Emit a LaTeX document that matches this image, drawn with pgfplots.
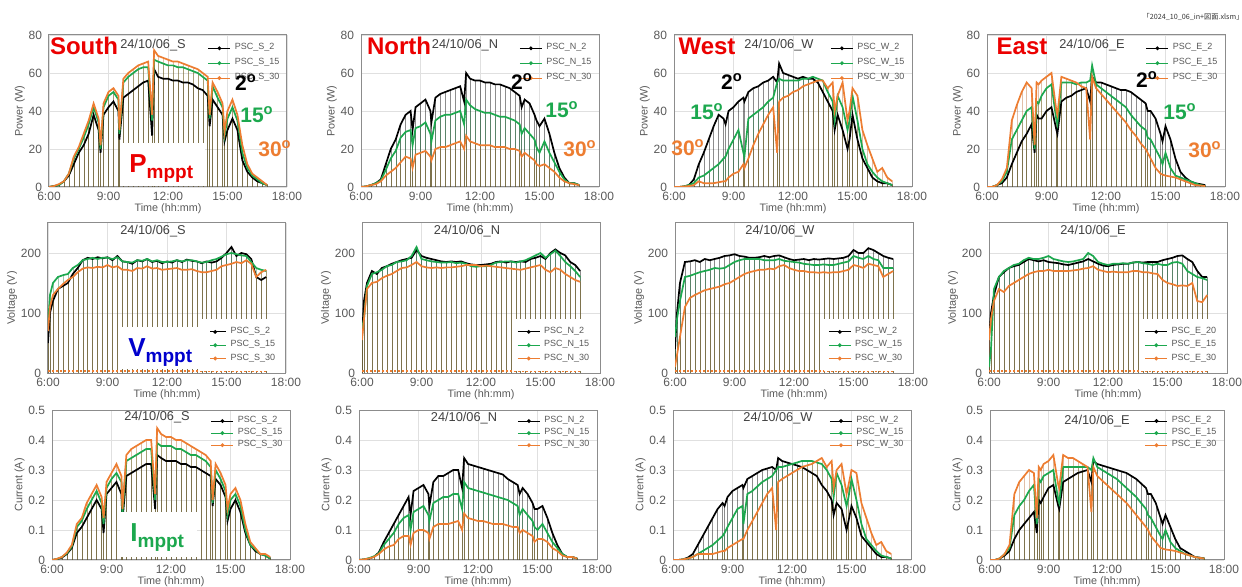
\documentclass[border=0pt]{standalone}
\usepackage{pgfplots}
\usepackage{pgfplotstable}
\pgfplotsset{compat=1.18}
\usepackage{fontspec}
\setmainfont{Liberation Sans}
\newfontfamily\cjk{Noto Sans CJK JP}
\definecolor{cgreen}{RGB}{28,168,78}
\definecolor{corange}{RGB}{237,125,49}
\definecolor{cred}{RGB}{235,0,0}
\definecolor{cblue}{RGB}{0,0,205}
\definecolor{cgray}{RGB}{89,89,89}

\pgfplotstableread{
t a b c
6.0 0 0 0
6.25 0.5 0.5 0.5
6.5 1 1 1.5
6.75 3 3 3
7.0 6 7 7
7.25 12 15 16
7.5 18 20 21
7.75 22 26 28
8.0 28 33 35
8.25 38 42 44
8.5 30 34 36
8.6 18 20 22
8.75 38 42 44
9.0 42 48 50
9.25 45 50 52
9.5 40 46 48
9.55 25 28 30
9.75 47 55 57
10.0 49 58 60
10.25 51 60 62
10.5 53 62 64
10.75 55 63 65
11.0 56 63 66
11.2 27 35 38
11.3 62 67 72
11.5 58 66 69
11.75 57 65 68
12.0 57 64 67
12.25 56 64 66
12.5 56 63 66
12.75 55 63 65
13.0 55 62 64
13.25 54 61 63
13.5 52 60 62
13.75 51 58 60
14.0 48 56 58
14.1 32 36 38
14.25 46 53 55
14.5 42 47 50
14.75 38 42 44
14.85 24 27 29
15.0 30 36 40
15.25 36 42 46
15.5 30 35 38
15.75 14 18 22
16.0 8 10 12
16.25 5 6 7
16.5 3 4 5
16.75 2 2 3
17.0 1 1 1
}\SP

\pgfplotstableread{
t a b c
6.0 50 80 70
6.1 100 130 110
6.25 120 150 130
6.5 140 160 140
6.75 145 163 148
7.0 150 165 155
7.25 165 175 160
7.5 175 180 168
7.75 188 188 174
8.0 192 190 176
8.25 190 192 175
8.5 193 190 177
8.75 191 192 176
9.0 193 192 180
9.25 188 190 176
9.5 195 193 178
9.75 186 186 172
10.0 185 185 172
10.25 182 184 170
10.5 188 188 175
10.75 186 187 174
11.0 190 190 178
11.25 185 186 174
11.5 187 188 175
11.75 183 185 172
12.0 186 185 173
12.25 184 186 174
12.5 188 188 175
12.75 185 186 172
13.0 189 188 172
13.25 187 188 173
13.5 186 186 170
13.75 183 184 168
14.0 186 185 168
14.25 184 188 170
14.5 186 190 172
14.75 192 194 178
15.0 200 198 180
15.25 210 200 182
15.5 195 198 185
15.75 200 196 183
16.0 198 195 188
16.25 190 185 182
16.5 160 175 160
16.75 155 172 168
17.0 160 170 172
}\SV

\pgfplotstableread{
t a b c
6.0 0 0 0
6.25 0.003 0.003 0.004
6.5 0.008 0.01 0.01
6.75 0.02 0.022 0.025
7.0 0.04 0.045 0.05
7.25 0.09 0.11 0.12
7.5 0.11 0.13 0.14
7.75 0.14 0.17 0.19
8.0 0.17 0.20 0.22
8.25 0.20 0.23 0.25
8.5 0.17 0.19 0.21
8.6 0.09 0.12 0.14
8.75 0.22 0.24 0.26
9.0 0.24 0.27 0.29
9.25 0.26 0.29 0.32
9.5 0.22 0.26 0.28
9.55 0.13 0.15 0.17
9.75 0.28 0.33 0.35
10.0 0.29 0.34 0.37
10.25 0.30 0.35 0.38
10.5 0.31 0.36 0.39
10.75 0.32 0.37 0.40
11.0 0.32 0.37 0.40
11.2 0.17 0.20 0.22
11.3 0.35 0.39 0.44
11.5 0.34 0.38 0.42
11.75 0.33 0.38 0.41
12.0 0.33 0.38 0.41
12.25 0.33 0.37 0.40
12.5 0.32 0.37 0.40
12.75 0.32 0.36 0.39
13.0 0.31 0.35 0.38
13.25 0.31 0.35 0.37
13.5 0.30 0.34 0.36
13.75 0.29 0.33 0.35
14.0 0.28 0.31 0.33
14.1 0.18 0.19 0.20
14.25 0.27 0.30 0.32
14.5 0.25 0.27 0.29
14.75 0.21 0.23 0.25
14.85 0.13 0.15 0.17
15.0 0.17 0.20 0.22
15.25 0.20 0.22 0.24
15.5 0.16 0.18 0.20
15.75 0.09 0.10 0.12
16.0 0.05 0.05 0.06
16.25 0.03 0.035 0.04
16.5 0.02 0.02 0.02
16.75 0.015 0.015 0.02
17.0 0.005 0.005 0.01
}\SI

\pgfplotstableread{
t a b c
6.0 0 0 0
6.25 0.3 0.3 0.3
6.5 1 1 1
6.75 2 2 1.5
7.0 4 3.5 3
7.25 12 9 6
7.5 20 15 8
7.75 25 19 10
8.0 33 26 13
8.25 38 29 16
8.5 40 30 15
8.6 30 22 10
8.75 42 31 17
9.0 44 32 18
9.25 46 34 19
9.5 40 28 16
9.55 34 24 14
9.75 47 35 20
10.0 49 37 21
10.25 50 38 21
10.5 51 38 22
10.75 52 39 23
11.0 53 40 24
11.2 45 33 20
11.3 60 46 27
11.5 57 43 24
11.75 56 41 23
12.0 56 40 22
12.25 55 39 22
12.5 55 39 22
12.75 54 38 21
13.0 54 37 21
13.25 53 37 21
13.5 52 36 20
13.75 50 35 20
14.0 48 33 19
14.1 42 28 16
14.25 46 31 18
14.5 44 28 16
14.75 38 25 14
14.85 35 21 12
15.0 32 18 11
15.25 36 24 12
15.5 28 18 10
15.75 18 13 8
16.0 10 8 5
16.25 5 4 3
16.5 2 2 2
16.75 2 2 1.5
17.0 1 1 1
}\NP

\pgfplotstableread{
t a b c
6.0 60 75 55
6.1 120 90 90
6.25 150 145 140
6.5 170 165 150
6.75 165 168 152
7.0 175 172 158
7.25 178 178 162
7.5 182 180 165
7.75 185 185 170
8.0 188 186 175
8.25 190 188 176
8.5 192 195 180
8.75 205 210 185
9.0 195 190 178
9.25 192 188 176
9.5 190 186 175
9.75 188 185 176
10.0 186 184 175
10.25 185 184 176
10.5 186 185 176
10.75 185 183 177
11.0 186 184 178
11.25 183 182 180
11.5 181 178 180
11.75 180 177 180
12.0 180 178 178
12.25 181 178 179
12.5 182 180 178
12.75 185 184 177
13.0 186 185 176
13.25 184 186 175
13.5 186 186 174
13.75 185 184 173
14.0 186 186 172
14.25 185 188 174
14.5 190 192 176
14.75 192 196 178
15.0 195 200 180
15.25 190 192 172
15.5 200 198 168
15.75 206 204 175
16.0 200 195 172
16.25 196 185 165
16.5 185 178 160
16.75 180 170 155
17.0 170 160 152
}\NV

\pgfplotstableread{
t a b c
6.0 0 0 0
6.25 0.002 0.002 0.002
6.5 0.005 0.006 0.005
6.75 0.01 0.012 0.01
7.0 0.025 0.022 0.02
7.25 0.06 0.05 0.035
7.5 0.09 0.07 0.045
7.75 0.12 0.09 0.05
8.0 0.15 0.12 0.07
8.25 0.18 0.14 0.08
8.5 0.21 0.15 0.08
8.6 0.15 0.10 0.05
8.75 0.23 0.16 0.09
9.0 0.24 0.17 0.10
9.25 0.25 0.18 0.10
9.5 0.22 0.15 0.09
9.55 0.18 0.13 0.07
9.75 0.26 0.19 0.11
10.0 0.28 0.20 0.12
10.25 0.28 0.21 0.12
10.5 0.29 0.21 0.12
10.75 0.30 0.22 0.125
11.0 0.30 0.22 0.13
11.2 0.24 0.17 0.10
11.3 0.34 0.26 0.155
11.5 0.32 0.24 0.14
11.75 0.315 0.235 0.135
12.0 0.31 0.23 0.13
12.25 0.305 0.225 0.13
12.5 0.30 0.22 0.125
12.75 0.295 0.215 0.12
13.0 0.29 0.21 0.12
13.25 0.285 0.205 0.12
13.5 0.27 0.20 0.115
13.75 0.26 0.19 0.11
14.0 0.25 0.18 0.11
14.1 0.22 0.15 0.09
14.25 0.24 0.17 0.10
14.5 0.22 0.15 0.09
14.75 0.19 0.13 0.08
14.85 0.17 0.11 0.06
15.0 0.17 0.10 0.07
15.25 0.18 0.12 0.07
15.5 0.14 0.09 0.06
15.75 0.09 0.06 0.04
16.0 0.05 0.04 0.03
16.25 0.02 0.02 0.015
16.5 0.01 0.01 0.01
16.75 0.01 0.01 0.01
17.0 0.005 0.005 0.005
}\NI

\pgfplotstableread{
t a b c
6.0 0 0 0
6.25 0 0 0
6.5 0.3 0.3 0.3
6.75 1 1 0.5
7.0 4 2 1
7.25 12 5 3
7.5 18 6 2
7.75 25 8 2
8.0 32 10 2
8.25 38 12 2.5
8.5 36 15 3
8.6 33 16 3
8.75 40 20 5
9.0 42 25 7
9.25 45 30 8
9.5 47 18 12
9.55 45 16 10
9.75 50 36 15
10.0 52 38 22
10.25 53 40 28
10.5 55 42 33
10.75 56 45 38
11.0 58 47 42
11.2 55 55 18
11.3 65 57 45
11.5 60 56 47
11.75 59 56 48
12.0 58 56 50
12.25 57 56 51
12.5 58 57 53
12.75 57 57 54
13.0 57 58 55
13.25 55 57 56
13.5 50 56 56
13.75 45 50 52
14.0 40 45 55
14.1 30 35 40
14.25 38 48 48
14.5 30 42 55
14.75 20 30 35
14.85 25 35 40
15.0 38 48 52
15.25 25 35 48
15.5 15 20 30
15.75 10 12 22
16.0 5 8 15
16.25 3 5 8
16.5 2 3 10
16.75 2 2 5
17.0 1 1 3
}\WP

\pgfplotstableread{
t a b c
6.0 40 60 10
6.1 100 90 30
6.25 150 120 60
6.5 185 160 110
6.75 186 162 125
7.0 188 165 130
7.25 185 168 134
7.5 190 170 138
7.75 188 172 140
8.0 190 175 142
8.25 192 174 144
8.5 195 175 148
8.75 196 180 150
9.0 198 185 155
9.25 195 188 160
9.5 194 190 165
9.75 192 190 168
10.0 192 190 170
10.25 193 190 172
10.5 195 188 172
10.75 193 188 174
11.0 195 188 173
11.25 196 190 178
11.5 193 187 180
11.75 190 186 175
12.0 188 185 172
12.25 189 184 170
12.5 190 182 170
12.75 188 181 168
13.0 190 180 168
13.25 189 180 167
13.5 190 181 168
13.75 191 180 167
14.0 190 180 168
14.25 191 182 168
14.5 192 184 170
14.75 195 186 172
15.0 205 195 180
15.25 200 192 178
15.5 200 190 175
15.75 208 195 182
16.0 205 190 180
16.25 200 188 178
16.5 195 175 160
16.75 192 175 165
17.0 190 175 170
}\WV

\pgfplotstableread{
t a b c
6.0 0 0 0
6.25 0 0 0
6.5 0.002 0.002 0.002
6.75 0.008 0.005 0.005
7.0 0.02 0.01 0.01
7.25 0.05 0.02 0.02
7.5 0.08 0.03 0.02
7.75 0.11 0.04 0.02
8.0 0.14 0.05 0.02
8.25 0.17 0.065 0.025
8.5 0.19 0.08 0.03
8.6 0.18 0.09 0.03
8.75 0.21 0.11 0.04
9.0 0.23 0.14 0.05
9.25 0.24 0.17 0.06
9.5 0.25 0.18 0.07
9.55 0.24 0.12 0.07
9.75 0.27 0.22 0.10
10.0 0.28 0.23 0.13
10.25 0.29 0.245 0.16
10.5 0.30 0.26 0.19
10.75 0.305 0.27 0.22
11.0 0.31 0.28 0.24
11.2 0.30 0.30 0.10
11.3 0.34 0.31 0.26
11.5 0.33 0.31 0.27
11.75 0.325 0.315 0.28
12.0 0.32 0.32 0.29
12.25 0.315 0.325 0.30
12.5 0.31 0.33 0.31
12.75 0.30 0.33 0.315
13.0 0.29 0.33 0.32
13.25 0.28 0.325 0.33
13.5 0.25 0.32 0.34
13.75 0.23 0.30 0.31
14.0 0.20 0.27 0.33
14.1 0.15 0.21 0.24
14.25 0.19 0.29 0.30
14.5 0.17 0.25 0.32
14.75 0.10 0.18 0.22
14.85 0.13 0.21 0.25
15.0 0.18 0.27 0.30
15.25 0.14 0.20 0.29
15.5 0.08 0.12 0.19
15.75 0.06 0.07 0.14
16.0 0.04 0.05 0.09
16.25 0.02 0.03 0.05
16.5 0.01 0.015 0.06
16.75 0.01 0.01 0.03
17.0 0.005 0.005 0.02
}\WI

\pgfplotstableread{
t a b c
6.0 0 0 0
6.25 0 0 0
6.5 1 1 1
6.75 2 3 4
7.0 5 8 10
7.25 12 25 35
7.5 18 30 43
7.75 24 35 50
8.0 28 40 55
8.25 33 42 52
8.4 18 20 22
8.5 38 45 55
8.6 36 44 54
8.75 36 48 56
9.0 40 52 58
9.25 42 54 60
9.5 30 35 40
9.55 28 33 38
9.75 45 55 58
10.0 47 55 57
10.25 48 55 56
10.5 50 54 55
10.75 51 55 53
11.0 52 55 52
11.2 45 56 25
11.3 58 64 58
11.5 55 54 52
11.75 55 52 49
12.0 54 50 46
12.25 53 48 43
12.5 52 46 40
12.75 51 44 37
13.0 51 42 34
13.25 50 38 30
13.5 48 35 27
13.75 46 32 23
14.0 44 30 20
14.1 40 26 18
14.25 40 25 15
14.5 36 20 10
14.75 28 15 7
14.85 24 12 6.5
15.0 32 18 6
15.25 25 10 5.5
15.5 15 6 5
15.75 8 5 4
16.0 5 4 3
16.25 3 3 2
16.5 2 2 1
16.75 1.5 1 0.8
17.0 1 0.5 0.5
}\EP

\pgfplotstableread{
t a b c
6.0 60 10 55
6.1 100 40 90
6.25 130 140 120
6.5 160 160 140
6.75 168 170 135
7.0 175 175 145
7.25 178 180 150
7.5 180 182 155
7.75 185 188 160
8.0 190 192 165
8.25 188 190 168
8.5 186 190 170
8.75 188 192 170
9.0 185 195 172
9.25 184 190 170
9.5 183 188 170
9.75 181 186 170
10.0 180 185 170
10.25 182 186 171
10.5 184 188 172
10.75 186 190 174
11.0 190 200 175
11.25 186 195 178
11.5 182 185 172
11.75 179 182 170
12.0 178 180 168
12.25 180 182 169
12.5 181 182 168
12.75 182 183 168
13.0 182 182 168
13.25 184 184 170
13.5 185 185 170
13.75 184 183 168
14.0 185 182 168
14.25 185 180 166
14.5 185 182 165
14.75 188 180 155
15.0 190 180 150
15.25 192 184 148
15.5 195 185 145
15.75 196 182 146
16.0 190 170 145
16.25 185 165 150
16.5 170 160 120
16.75 160 158 118
17.0 160 155 130
}\EV

\pgfplotstableread{
t a b c
6.0 0 0 0
6.25 0 0 0
6.5 0.005 0.005 0.005
6.75 0.015 0.02 0.02
7.0 0.03 0.04 0.05
7.25 0.07 0.15 0.22
7.5 0.10 0.18 0.26
7.75 0.12 0.20 0.28
8.0 0.14 0.23 0.30
8.25 0.16 0.25 0.29
8.4 0.09 0.12 0.14
8.5 0.20 0.27 0.31
8.6 0.19 0.26 0.30
8.75 0.21 0.28 0.32
9.0 0.24 0.29 0.33
9.25 0.25 0.30 0.35
9.5 0.18 0.20 0.25
9.55 0.17 0.19 0.24
9.75 0.26 0.31 0.35
10.0 0.27 0.31 0.34
10.25 0.28 0.31 0.34
10.5 0.29 0.31 0.33
10.75 0.295 0.31 0.32
11.0 0.30 0.31 0.31
11.2 0.26 0.30 0.16
11.3 0.33 0.34 0.31
11.5 0.32 0.31 0.28
11.75 0.315 0.30 0.265
12.0 0.31 0.29 0.25
12.25 0.305 0.28 0.235
12.5 0.30 0.27 0.22
12.75 0.295 0.255 0.205
13.0 0.29 0.24 0.19
13.25 0.28 0.225 0.17
13.5 0.27 0.21 0.15
13.75 0.255 0.19 0.13
14.0 0.24 0.17 0.11
14.1 0.22 0.15 0.10
14.25 0.22 0.14 0.08
14.5 0.19 0.11 0.06
14.75 0.14 0.08 0.04
14.85 0.12 0.07 0.038
15.0 0.15 0.10 0.035
15.25 0.11 0.06 0.033
15.5 0.07 0.04 0.03
15.75 0.04 0.03 0.025
16.0 0.03 0.02 0.02
16.25 0.02 0.015 0.015
16.5 0.01 0.01 0.01
16.75 0.008 0.007 0.007
17.0 0.005 0.005 0.005
}\EI

\pgfplotsset{
  base/.style={scale only axis, width=119pt, xmin=6, xmax=18,
    xtick={6,9,12,15,18}, xticklabels={6:00,9:00,12:00,15:00,18:00},
    grid=major, grid style={black!12, line width=0.4pt},
    axis line style={black!45, line width=0.5pt}, major tick length=0pt,
    tick label style={font=\fontsize{6}{7}\selectfont, text=cgray},
    label style={font=\fontsize{5.4}{6}\selectfont, text=cgray},
    xlabel={Time (hh:mm)}, xlabel style={yshift=5.5pt},
    ylabel style={yshift=-5pt},
    /pgf/number format/assume math mode=true,
    xticklabel style={yshift=1pt},
    legend cell align=left,
    legend style={draw=none, fill=none, font=\fontsize{4.5}{5}\selectfont, text=cgray,
      at={(rel axis cs:0.995,0.985)}, anchor=north east, row sep=-1.2pt, inner sep=1pt},
    legend image code/.code={\draw[##1, line width=0.45pt] (0pt,0pt) -- (11pt,0pt); \fill[##1] (5.5pt,0pt) circle (0.45pt);}},
  prow/.style={base, height=76pt, ymin=0, ymax=80, ytick={0,20,40,60,80}, ylabel={Power (W)}},
  vrow/.style={base, height=75pt, ymin=0, ymax=250, ytick={0,100,200}, ylabel={Voltage (V)},
    legend style={at={(rel axis cs:0.99,0.01)}, anchor=south east, fill=white, row sep=-2pt, inner sep=2pt}},
  irow/.style={base, height=75pt, ymin=0, ymax=0.5, ytick={0,0.1,0.2,0.3,0.4,0.5}, ylabel={Current (A)},
    legend style={at={(rel axis cs:0.995,1.0)}, row sep=-2.6pt}},
}

\newcommand{\series}[1]{%
  \addplot[ycomb, black, line width=0.2pt, opacity=0.45, forget plot] table[x=t,y=a]{#1};
  \addplot[ycomb, cgreen!70!black, line width=0.2pt, opacity=0.4, forget plot] table[x=t,y=b]{#1};
  \addplot[ycomb, corange!75!black, line width=0.2pt, opacity=0.4, forget plot] table[x=t,y=c]{#1};
  \addplot[black, line width=0.85pt] table[x=t,y=a]{#1};
  \addplot[cgreen, line width=0.85pt] table[x=t,y=b]{#1};
  \addplot[corange, line width=0.85pt] table[x=t,y=c]{#1};
}
\newcommand{\vzero}{\addplot[corange, densely dotted, line width=1pt, forget plot] coordinates {(6,3) (17,3)};}

\begin{document}
\begin{tikzpicture}
\path[use as bounding box] (0,0) rectangle (621pt,-293.5pt);

% ---------- Power row ----------
\begin{axis}[prow, at={(24.5pt,-17.5pt)}, anchor=north west]
\series{\SP}
\legend{PSC\_S\_2,PSC\_S\_15,PSC\_S\_30}
\end{axis}
\begin{axis}[prow, at={(180.5pt,-17.5pt)}, anchor=north west]
\series{\NP}
\legend{PSC\_N\_2,PSC\_N\_15,PSC\_N\_30}
\end{axis}
\begin{axis}[prow, at={(337pt,-17.5pt)}, anchor=north west]
\series{\WP}
\legend{PSC\_W\_2,PSC\_W\_15,PSC\_W\_30}
\end{axis}
\begin{axis}[prow, at={(493.5pt,-17.5pt)}, anchor=north west]
\series{\EP}
\legend{PSC\_E\_2,PSC\_E\_15,PSC\_E\_30}
\end{axis}

% ---------- Voltage row ----------
\begin{axis}[vrow, at={(24pt,-111.5pt)}, anchor=north west]
\series{\SV}\vzero
\legend{PSC\_S\_2,PSC\_S\_15,PSC\_S\_30}
\end{axis}
\begin{axis}[vrow, at={(181pt,-111.5pt)}, anchor=north west]
\series{\NV}\vzero
\legend{PSC\_N\_2,PSC\_N\_15,PSC\_N\_30}
\end{axis}
\begin{axis}[vrow, at={(337.5pt,-111.5pt)}, anchor=north west]
\series{\WV}\vzero
\legend{PSC\_W\_2,PSC\_W\_15,PSC\_W\_30}
\end{axis}
\begin{axis}[vrow, at={(494.5pt,-111.5pt)}, anchor=north west]
\series{\EV}\vzero
\legend{PSC\_E\_20,PSC\_E\_15,PSC\_E\_30}
\end{axis}

% ---------- Current row ----------
\begin{axis}[irow, at={(26pt,-205pt)}, anchor=north west]
\series{\SI}
\legend{PSC\_S\_2,PSC\_S\_15,PSC\_S\_30}
\end{axis}
\begin{axis}[irow, at={(179.5pt,-205pt)}, anchor=north west]
\series{\NI}
\legend{PSC\_N\_2,PSC\_N\_15,PSC\_N\_30}
\end{axis}
\begin{axis}[irow, at={(336.5pt,-205pt)}, anchor=north west]
\series{\WI}
\legend{PSC\_W\_2,PSC\_W\_15,PSC\_W\_30}
\end{axis}
\begin{axis}[irow, at={(495pt,-205pt)}, anchor=north west, width=117pt]
\series{\EI}
\legend{PSC\_E\_2,PSC\_E\_15,PSC\_E\_30}
\end{axis}

% ---------- annotations (pixel units) ----------
\begin{scope}[x=0.5pt,y=-0.5pt]
\tikzset{ttl/.style={font=\fontsize{6.4}{7}\selectfont, text=black!75, inner sep=0pt},
  dir/.style={font=\bfseries\fontsize{12}{12}\selectfont, text=cred, inner sep=0pt},
  deg/.style={font=\bfseries\fontsize{10.5}{11}\selectfont, inner sep=0pt}}
% titles
\node[ttl] at (153,45) {24/10/06\_S};
\node[ttl] at (465,45) {24/10/06\_N};
\node[ttl] at (779,45) {24/10/06\_W};
\node[ttl] at (1092,45) {24/10/06\_E};
\node[ttl] at (153,231) {24/10/06\_S};
\node[ttl] at (467,231) {24/10/06\_N};
\node[ttl] at (780,231) {24/10/06\_W};
\node[ttl] at (1093,231) {24/10/06\_E};
\node[ttl] at (157,417) {24/10/06\_S};
\node[ttl] at (464,418) {24/10/06\_N};
\node[ttl] at (778,418) {24/10/06\_W};
\node[ttl] at (1097,421) {24/10/06\_E};
% directions
\node[dir] at (84,46) {South};
\node[dir] at (399,46) {North};
\node[dir] at (707,46) {West};
\node[dir] at (1022,46) {East};
% tilt labels
\node[deg, text=black] at (246,83) {2\textsuperscript{o}};
\node[deg, text=cgreen] at (257,115) {15\textsuperscript{o}};
\node[deg, text=corange] at (275,149) {30\textsuperscript{o}};
\node[deg, text=black] at (522,82) {2\textsuperscript{o}};
\node[deg, text=cgreen] at (562,110) {15\textsuperscript{o}};
\node[deg, text=corange] at (580,149) {30\textsuperscript{o}};
\node[deg, text=black] at (732,82) {2\textsuperscript{o}};
\node[deg, text=cgreen] at (707,112) {15\textsuperscript{o}};
\node[deg, text=corange] at (688,148) {30\textsuperscript{o}};
\node[deg, text=black] at (1147,80) {2\textsuperscript{o}};
\node[deg, text=cgreen] at (1180,112) {15\textsuperscript{o}};
\node[deg, text=corange] at (1205,150) {30\textsuperscript{o}};
% mppt boxes
\fill[white] (120,143) rectangle (205,186);
\node[inner sep=0pt, text=cred, anchor=base west] at (129,173) {\bfseries\fontsize{13}{13}\selectfont P\raisebox{-3pt}{\fontsize{9.5}{10}\selectfont mppt}};
\fill[white] (120,327) rectangle (210,369);
\node[inner sep=0pt, text=cblue, anchor=base west] at (128,357) {\bfseries\fontsize{13}{13}\selectfont V\raisebox{-3pt}{\fontsize{9.5}{10}\selectfont mppt}};
\fill[white] (120,512) rectangle (197,557);
\node[inner sep=0pt, text=cgreen, anchor=base west] at (130,541) {\bfseries\fontsize{13}{13}\selectfont I\raisebox{-3pt}{\fontsize{9.5}{10}\selectfont mppt}};
% file name
\node[inner sep=0pt, text=black!80, font=\fontsize{3.6}{4}\selectfont] at (1193,17) {\cjk 「2024\_10\_06\_in+図面.xlsm」};
\end{scope}
\end{tikzpicture}
\end{document}
